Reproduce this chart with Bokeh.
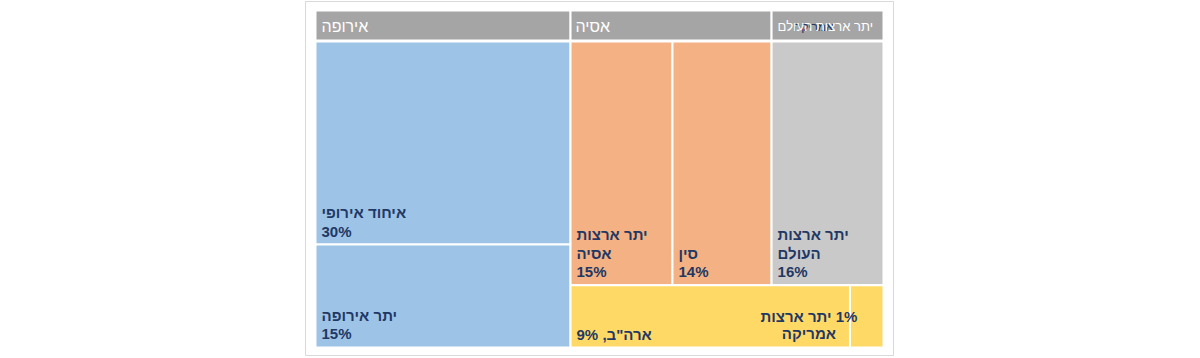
from bokeh.plotting import figure
from bokeh.models import Range1d, ColumnDataSource
from bokeh.embed import file_html
from bokeh.resources import INLINE
from bokeh.core.properties import value

# ---- data ----
groups = ["אירופה", "אסיה", "יתר ארצות העולם", "אמריקה"]
group_colors = ["#9DC3E6", "#F4B183", "#C9C9C9", "#FFD966"]

europe_labels = ["איחוד אירופי", "יתר אירופה"]
europe_pct = ["30%", "15%"]
europe_size = [29.8, 15.1]

asia_labels = ["יתר ארצות\nאסיה", "סין"]
asia_pct = ["15%", "14%"]
asia_size = [14.3, 13.9]

world_labels = ["יתר ארצות\nהעולם"]
world_pct = ["16%"]
world_size = [15.7]

america_labels = ["ארה\"ב", "יתר ארצות"]
america_pct = ["9%", "1%"]
america_size = [10.0, 1.2]

# ---- figure ----
FW, FH = 588, 354
p = figure(width=1198, height=FH + 2, output_backend="svg", toolbar_location=None,
           x_range=Range1d(0, FW), y_range=Range1d(FH, 0),
           x_axis_type=None, y_axis_type=None,
           min_border_left=305, min_border_right=305, min_border_top=1, min_border_bottom=1)
p.grid.visible = False
p.outline_line_color = "#D9D9D9"
p.outline_line_width = 1
p.background_fill_color = "white"
p.border_fill_color = "white"

X0, X1 = 10, 578
HY0, HY1 = 9, 39
Y0, Y1 = 40, 346
W, H = X1 - X0, Y1 - Y0

total = sum(europe_size) + sum(asia_size) + sum(world_size) + sum(america_size)
eu_t, as_t, wo_t, am_t = sum(europe_size), sum(asia_size), sum(world_size), sum(america_size)

xe = X0 + W * eu_t / total
rest = total - eu_t
ysplit = Y0 + H * (as_t + wo_t) / rest
xa = xe + (X1 - xe) * as_t / (as_t + wo_t)

tiles = dict(left=[], right=[], top=[], bottom=[], color=[])
labels = []

def add(l, r, t, b, c):
    tiles["left"].append(l); tiles["right"].append(r)
    tiles["top"].append(t); tiles["bottom"].append(b); tiles["color"].append(c)

# Europe: stacked vertically
y = Y0
for lab, pc, s in zip(europe_labels, europe_pct, europe_size):
    y2 = y + H * s / eu_t
    add(X0, xe, y, y2, group_colors[0])
    labels.append((X0, y2, lab + "\n" + pc))
    y = y2

# Asia: side by side
x = xe
for lab, pc, s in zip(asia_labels, asia_pct, asia_size):
    x2 = x + (xa - xe) * s / as_t
    add(x, x2, Y0, ysplit, group_colors[1])
    labels.append((x, ysplit, lab + "\n" + pc))
    x = x2

# World
add(xa, X1, Y0, ysplit, group_colors[2])
labels.append((xa, ysplit, world_labels[0] + "\n" + world_pct[0]))

# America: side by side, bottom
x = xe
am_tiles = []
for s in america_size:
    x2 = x + (X1 - xe) * s / am_t
    add(x, x2, ysplit, Y1, group_colors[3])
    am_tiles.append((x, x2))
    x = x2

p.quad(left="left", right="right", top="top", bottom="bottom", fill_color="color",
       line_color="white", line_width=2, source=ColumnDataSource(tiles))

# headers
p.quad(left=[X0, xe, xa], right=[xe, xa, X1], top=HY0, bottom=HY1,
       fill_color="#A5A5A5", line_color="white", line_width=2)

navy = "#1F3864"
FONT = value("Liberation Sans")
hc = (HY0 + HY1) / 2

# stray America header label (navy), as in the reference
p.text(x=[xa + 62], y=[hc + 1], text=[groups[3]], text_font=FONT, text_font_size="12px",
       text_color=navy, text_align="right", text_baseline="middle")

p.text(x=[X0 + 6, xe + 5], y=[hc + 1, hc + 1], text=groups[:2], text_font=FONT,
       text_font_size="16px", text_color="white", text_align="left", text_baseline="middle")
p.text(x=[xa + 6], y=[hc + 1], text=[groups[2]], text_font=FONT,
       text_font_size="13px", text_color="white", text_align="left", text_baseline="middle")

# tile labels
p.text(x=[l[0] + 6 for l in labels], y=[l[1] - 5 for l in labels], text=[l[2] for l in labels],
       text_font=FONT, text_font_size="15px", text_font_style="bold", text_color=navy,
       text_align="left", text_baseline="bottom", text_line_height=1.1)

# USA label
usa_x0 = am_tiles[0][0]
p.text(x=[usa_x0 + 6], y=[Y1 - 5], text=[america_labels[0] + ", " + america_pct[0]],
       text_font=FONT, text_font_size="15px", text_font_style="bold", text_color=navy,
       text_align="left", text_baseline="bottom")

# rest of America label (overflows to the left of its tiny tile)
ra_x0 = am_tiles[1][0]
p.text(x=[ra_x0 - 41], y=[Y1 - 5],
       text=[america_labels[1] + " \u200e" + america_pct[1] + "\n" + groups[3]],
       text_font=FONT, text_font_size="15px", text_font_style="bold", text_color=navy,
       text_align="center", text_baseline="bottom", text_line_height=1.05)

open("out.html", "w").write(file_html(p, INLINE))
